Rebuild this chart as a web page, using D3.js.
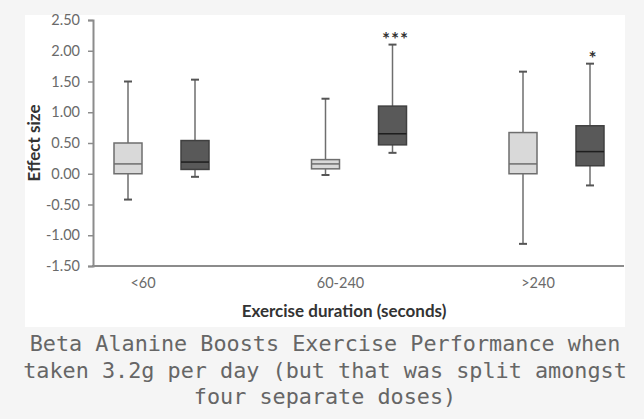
<!DOCTYPE html>
<html>
<head>
<meta charset="utf-8">
<script src="https://cdn.jsdelivr.net/npm/d3@7"></script>
<style>
  body { margin: 0; background: #f5f5f5; }
  svg { display: block; }
</style>
</head>
<body>
<div class="chart"></div>
<script>
const width = 644
const height = 419

// Data
const categories = ['<60', '60-240', '>240']
const series = ['light', 'dark']
const lightLow = [-0.42, -0.02, -1.14]
const lightQ1 = [0.0, 0.08, 0.0]
const lightMedian = [0.16, 0.16, 0.16]
const lightQ3 = [0.5, 0.23, 0.67]
const lightHigh = [1.5, 1.22, 1.66]
const darkLow = [-0.05, 0.34, -0.19]
const darkQ1 = [0.07, 0.47, 0.13]
const darkMedian = [0.19, 0.65, 0.36]
const darkQ3 = [0.54, 1.1, 0.78]
const darkHigh = [1.53, 2.1, 1.79]
const significance = ['', '***', '*']
const yTicks = [-1.5, -1.0, -0.5, 0.0, 0.5, 1.0, 1.5, 2.0, 2.5]
const caption = [
  'Beta Alanine Boosts Exercise Performance when',
  'taken 3.2g per day (but that was split amongst',
  'four separate doses)'
]

const boxes = []
categories.forEach((c, i) => {
  boxes.push({ cat: c, s: 'light', low: lightLow[i], q1: lightQ1[i], med: lightMedian[i], q3: lightQ3[i], high: lightHigh[i], sig: '' })
  boxes.push({ cat: c, s: 'dark', low: darkLow[i], q1: darkQ1[i], med: darkMedian[i], q3: darkQ3[i], high: darkHigh[i], sig: significance[i] })
})

const svg = d3
  .select('.chart')
  .append('svg')
  .attr('width', width)
  .attr('height', height)

// white chart panel
svg
  .append('rect')
  .attr('x', 25)
  .attr('y', 15)
  .attr('width', 600)
  .attr('height', 312)
  .attr('fill', '#ffffff')

const xScale = d3.scalePoint().domain(categories).range([143, 538])
const offset = d3.scalePoint().domain(series).range([-15, 52])
const yScale = d3.scaleLinear().domain([-1.5, 2.5]).range([266, 20])
const boxWidth = 28

const yAxis = d3
  .axisLeft(yScale)
  .tickValues(yTicks)
  .tickFormat(d => d.toFixed(2))
  .tickSize(5)
  .tickPadding(8)

const yg = svg
  .append('g')
  .attr('transform', 'translate(93, 0)')
  .call(yAxis)
yg.select('.domain').attr('stroke', '#8c8c8c').attr('stroke-width', 2)
yg.selectAll('.tick line').attr('stroke', '#8c8c8c').attr('stroke-width', 1.5)
yg.selectAll('.tick text')
  .attr('fill', '#6a6a6a')
  .style('font-family', 'Lato, sans-serif')
  .style('font-size', '14.5px')

// x axis baseline
svg
  .append('line')
  .attr('x1', 92)
  .attr('x2', 624)
  .attr('y1', yScale(-1.5))
  .attr('y2', yScale(-1.5))
  .attr('stroke', '#8c8c8c')
  .attr('stroke-width', 2)

// category labels
svg
  .selectAll('.cat')
  .data(categories)
  .enter()
  .append('text')
  .attr('class', 'cat')
  .attr('x', d => xScale(d))
  .attr('y', 288)
  .attr('text-anchor', 'middle')
  .attr('fill', '#6a6a6a')
  .style('font-family', 'Lato, sans-serif')
  .style('font-size', '14.5px')
  .text(d => d)

// axis titles
svg
  .append('text')
  .attr('x', 344)
  .attr('y', 317)
  .attr('text-anchor', 'middle')
  .attr('fill', '#333')
  .style('font-family', 'Lato, sans-serif')
  .style('font-weight', 'bold')
  .style('font-size', '17px')
  .text('Exercise duration (seconds)')

svg
  .append('text')
  .attr('transform', 'translate(40, 143) rotate(-90)')
  .attr('text-anchor', 'middle')
  .attr('fill', '#333')
  .style('font-family', 'Lato, sans-serif')
  .style('font-weight', 'bold')
  .style('font-size', '17px')
  .text('Effect size')

// box plots
const g = svg
  .selectAll('.box')
  .data(boxes)
  .enter()
  .append('g')
  .attr('class', 'box')
  .attr('transform', d => 'translate(' + (xScale(d.cat) + offset(d.s)) + ', 0)')

// whiskers
g.append('line')
  .attr('x1', 0)
  .attr('x2', 0)
  .attr('y1', d => yScale(d.high))
  .attr('y2', d => yScale(d.q3))
  .attr('stroke', '#6e6e6e')
  .attr('stroke-width', 1.5)
g.append('line')
  .attr('x1', 0)
  .attr('x2', 0)
  .attr('y1', d => yScale(d.q1))
  .attr('y2', d => yScale(d.low))
  .attr('stroke', '#6e6e6e')
  .attr('stroke-width', 1.5)

// caps
g.selectAll('.cap')
  .data(d => [d.high, d.low])
  .enter()
  .append('line')
  .attr('class', 'cap')
  .attr('x1', -4)
  .attr('x2', 4)
  .attr('y1', d => yScale(d))
  .attr('y2', d => yScale(d))
  .attr('stroke', '#555')
  .attr('stroke-width', 2)

g.append('rect')
  .attr('x', -boxWidth / 2)
  .attr('width', boxWidth)
  .attr('y', d => yScale(d.q3))
  .attr('height', d => yScale(d.q1) - yScale(d.q3))
  .attr('fill', d => (d.s === 'light' ? '#d9d9d9' : '#595959'))
  .attr('stroke', d => (d.s === 'light' ? '#6e6e6e' : '#404040'))
  .attr('stroke-width', 1.5)

g.append('line')
  .attr('x1', -boxWidth / 2)
  .attr('x2', boxWidth / 2)
  .attr('y1', d => yScale(d.med))
  .attr('y2', d => yScale(d.med))
  .attr('stroke', d => (d.s === 'light' ? '#6e6e6e' : '#1e1e1e'))
  .attr('stroke-width', 1.5)

// significance markers
g.append('text')
  .attr('x', 3)
  .attr('y', d => yScale(d.high) + 1)
  .attr('text-anchor', 'middle')
  .attr('fill', '#333')
  .style('font-family', 'Lato, sans-serif')
  .style('font-weight', 'bold')
  .style('font-size', '19px')
  .style('letter-spacing', '1px')
  .text(d => d.sig)

// caption under the image
svg
  .selectAll('.caption')
  .data(caption)
  .enter()
  .append('text')
  .attr('class', 'caption')
  .attr('x', 325)
  .attr('y', (d, i) => 351 + i * 26.5)
  .attr('text-anchor', 'middle')
  .attr('fill', '#666')
  .style('font-family', '"DejaVu Sans Mono", monospace')
  .style('font-size', '21.8px')
  .text(d => d)
</script>
</body>
</html>
